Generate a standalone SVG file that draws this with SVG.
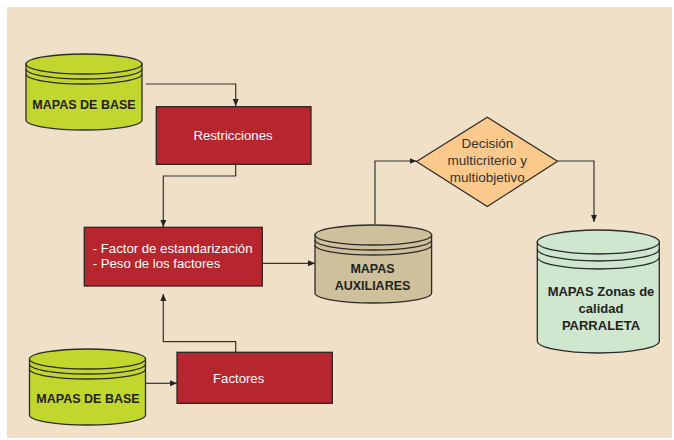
<svg xmlns="http://www.w3.org/2000/svg" width="674" height="440" viewBox="0 0 674 440">
<defs>
<style>
.cyl{stroke:#2b2b2b;stroke-width:1.3}
.ring{fill:none;stroke:#2b2b2b;stroke-width:1.3}
.box{fill:#B7262F;stroke:#2e2424;stroke-width:1.3}
.lbl{font-family:"Liberation Sans",Arial,sans-serif;font-weight:bold;font-size:12.5px;fill:#222;text-anchor:middle}
.wt{font-family:"Liberation Sans",Arial,sans-serif;font-size:13.2px;fill:#fff}
.dt{font-family:"Liberation Sans",Arial,sans-serif;font-size:13.5px;fill:#333;text-anchor:middle}
.con{fill:none;stroke:#333;stroke-width:1.2}
</style>
<marker id="ah" markerWidth="8" markerHeight="8" refX="7" refY="4" orient="auto" markerUnits="userSpaceOnUse">
<path d="M0,1 L7,4 L0,7 Z" fill="#222"/>
</marker>
</defs>
<rect x="0" y="0" width="674" height="440" fill="#fff"/>
<rect x="7" y="7" width="665" height="431" fill="#F0E0C8"/>

<g id="connectors">
<path class="con" d="M145.7,84 H235.7 V106" marker-end="url(#ah)"/>
<path class="con" d="M235.7,164.3 V176 H163.3 V227" marker-end="url(#ah)"/>
<path class="con" d="M235.7,352.3 V341.7 H163.3 V294" marker-end="url(#ah)"/>
<path class="con" d="M145.7,383.3 H177" marker-end="url(#ah)"/>
<path class="con" d="M262.3,263.3 H315" marker-end="url(#ah)"/>
<path class="con" d="M375,224 V161 H416.5" marker-end="url(#ah)"/>
<path class="con" d="M557.7,161 H594 V222" marker-end="url(#ah)"/>
</g>

<g id="mapas-base-1">
<path class="cyl" fill="#C2D72E" d="M26,64 V120 A58,10 0 0 0 142,120 V64 Z"/>
<ellipse class="cyl" fill="#C2D72E" cx="84" cy="64" rx="58" ry="10"/>
<path class="ring" d="M26,69 A58,10 0 0 0 142,69 M26,74 A58,10 0 0 0 142,74"/>
<text class="lbl" x="84" y="108.7">MAPAS DE BASE</text>
</g>

<g id="restricciones">
<rect class="box" x="156.3" y="106.7" width="154.7" height="57.6"/>
<text class="wt" x="233" y="140" text-anchor="middle">Restricciones</text>
</g>

<g id="factor-estandarizacion">
<rect class="box" x="84.3" y="227.3" width="178" height="58.7"/>
<text class="wt" x="92.7" y="253">- Factor de estandarización</text>
<text class="wt" x="92.7" y="268.3">- Peso de los factores</text>
</g>

<g id="mapas-base-2">
<path class="cyl" fill="#C2D72E" d="M29.5,359 V415 A58,10 0 0 0 145.5,415 V359 Z"/>
<ellipse class="cyl" fill="#C2D72E" cx="87.5" cy="359" rx="58" ry="10"/>
<path class="ring" d="M29.5,364 A58,10 0 0 0 145.5,364 M29.5,369 A58,10 0 0 0 145.5,369"/>
<text class="lbl" x="88" y="403.3">MAPAS DE BASE</text>
</g>

<g id="factores">
<rect class="box" x="177" y="352.3" width="155.3" height="51"/>
<text class="wt" x="213" y="382.7">Factores</text>
</g>

<g id="mapas-auxiliares">
<path class="cyl" fill="#CEC09A" d="M315,235 V293 A58.3,10 0 0 0 431.6,293 V235 Z"/>
<ellipse class="cyl" fill="#CEC09A" cx="373.3" cy="235" rx="58.3" ry="10"/>
<path class="ring" d="M315,240 A58.3,10 0 0 0 431.6,240 M315,245 A58.3,10 0 0 0 431.6,245"/>
<text class="lbl" x="372.5" y="273.3">MAPAS</text>
<text class="lbl" x="372.5" y="290">AUXILIARES</text>
</g>

<g id="decision">
<path d="M416.5,161.5 L487.3,117.3 L557.5,161.3 L487.3,206.5 Z" fill="#FBC98B" stroke="#2b2b2b" stroke-width="1.2"/>
<text class="dt" x="487.3" y="148.3">Decisión</text>
<text class="dt" x="487.3" y="165">multicriterio y</text>
<text class="dt" x="487.3" y="181.7">multiobjetivo</text>
</g>

<g id="mapas-zonas">
<path class="cyl" fill="#CFE7CE" d="M537.3,242 V341 A61,12 0 0 0 659.3,341 V242 Z"/>
<ellipse class="cyl" fill="#CFE7CE" cx="598.3" cy="242" rx="61" ry="12"/>
<path class="ring" d="M537.3,249 A61,12 0 0 0 659.3,249 M537.3,257 A61,12 0 0 0 659.3,257"/>
<text class="lbl" x="601" y="296.3" style="font-size:13px">MAPAS Zonas de</text>
<text class="lbl" x="601" y="313" style="font-size:13px">calidad</text>
<text class="lbl" x="601" y="329.5" style="font-size:13px">PARRALETA</text>
</g>
</svg>
